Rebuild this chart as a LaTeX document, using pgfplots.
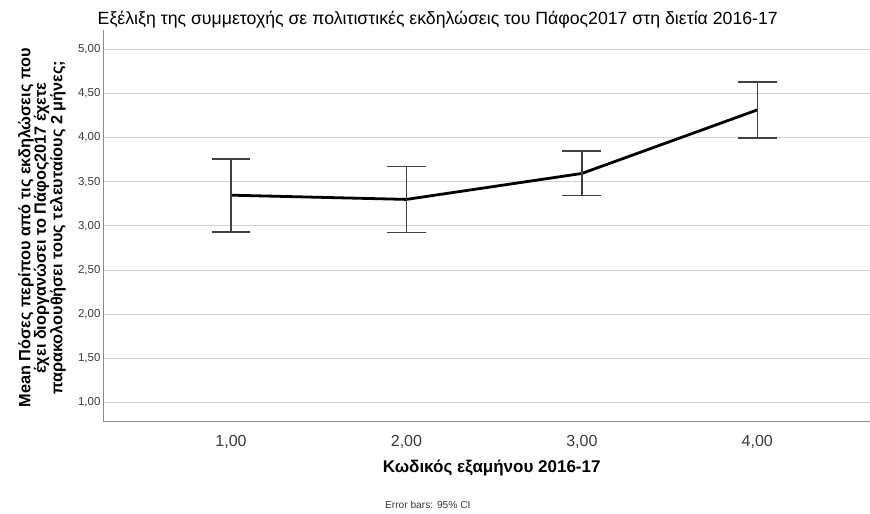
\documentclass[border=0pt]{standalone}
\usepackage{fontspec}
\setmainfont{Liberation Sans}
\usepackage{pgfplots}
\pgfplotsset{compat=1.18}

\definecolor{gridgray}{HTML}{D4D4D4}
\definecolor{axisgray}{HTML}{8C8C8C}
\definecolor{ticktext}{HTML}{3A3A3A}
\definecolor{barcol}{HTML}{404040}

\begin{document}
\begin{tikzpicture}
\begin{axis}[
    scale only axis,
    width=767pt, height=392pt,
    xmin=0.27, xmax=4.64,
    ymin=0.78, ymax=5.22,
    axis x line*=bottom, axis y line*=left,
    axis line style={axisgray, line width=0.8pt},
    x axis line style={-}, y axis line style={-},
    xtick={1,2,3,4},
    xticklabels={{1,00},{2,00},{3,00},{4,00}},
    ytick={1,1.5,2,2.5,3,3.5,4,4.5,5},
    yticklabels={{1,00},{1,50},{2,00},{2,50},{3,00},{3,50},{4,00},{4,50},{5,00}},
    major tick length=0pt,
    ymajorgrids,
    grid style={gridgray, line width=0.9pt},
    x tick label style={font=\fontsize{16}{17}\selectfont, text=ticktext, yshift=-10pt},
    y tick label style={font=\fontsize{11.5}{13}\selectfont, text=ticktext, xshift=1pt},
    clip=false,
]
\addplot[black, line width=2.8pt, no markers,
    error bars/.cd, y dir=both, y explicit,
    error bar style={barcol, line width=1.3pt},
    error mark options={rotate=90, barcol, line width=1.3pt, mark size=19.5pt}]
coordinates {
    (1,3.348) += (0,0.409) -= (0,0.418)
    (2,3.300) += (0,0.370) -= (0,0.373)
    (3,3.594) += (0,0.254) -= (0,0.250)
    (4,4.314) += (0,0.318) -= (0,0.318)
};
\end{axis}
\node[font=\fontsize{17.7}{19}\selectfont] at (335pt,402pt)
    {Εξέλιξη της συμμετοχής σε πολιτιστικές εκδηλώσεις του Πάφος2017 στη διετία 2016-17};
\node[font=\bfseries\fontsize{16.3}{15.5}\selectfont, rotate=90, align=center] at (-61pt,194pt)
    {Mean Πόσες περίπου από τις εκδηλώσεις που\\έχει διοργανώσει το Πάφος2017 έχετε\\παρακολουθήσει τους τελευταίους 2 μήνες;};
\node[font=\bfseries\fontsize{17}{19}\selectfont] at (389pt,-46pt) {Κωδικός εξαμήνου 2016-17};
\node[font=\fontsize{10.2}{12}\selectfont, text=ticktext] at (325pt,-83pt) {Error bars: 95\% CI};
\path[use as bounding box] (-103pt,-92pt) rectangle (767pt,422pt);
\end{tikzpicture}
\end{document}
